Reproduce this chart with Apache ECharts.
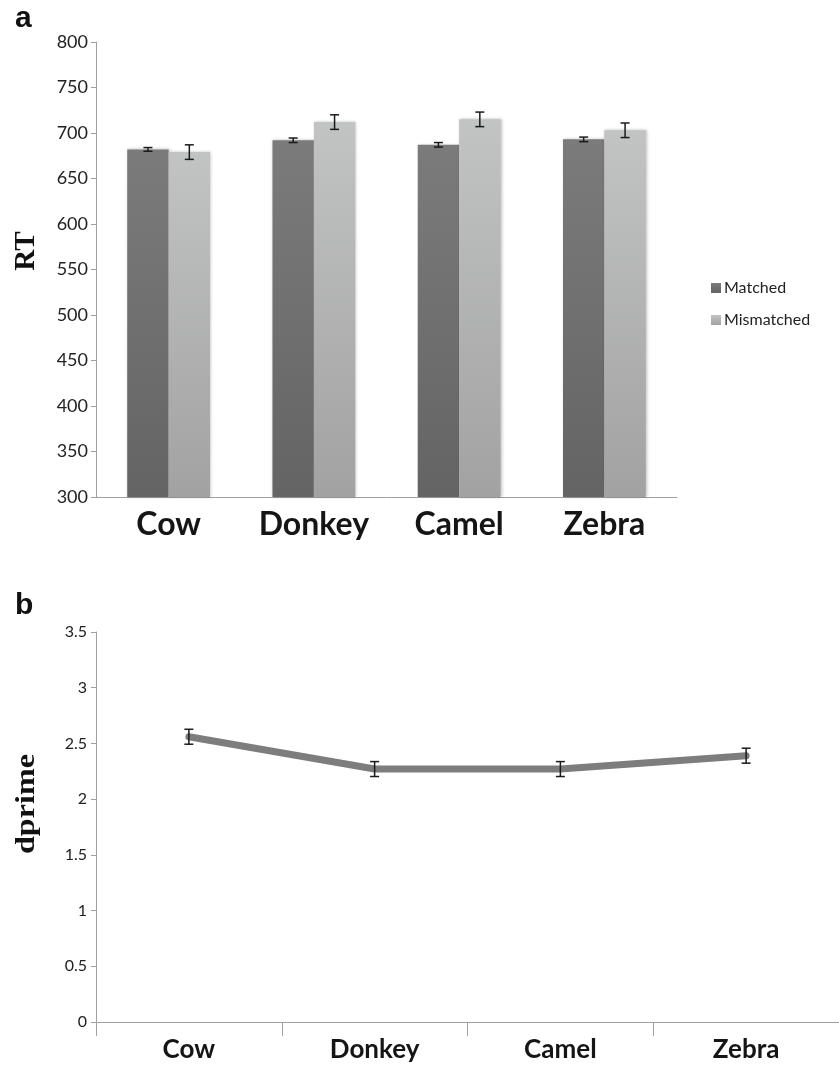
<!DOCTYPE html>
<html>
<head>
<meta charset="utf-8">
<script src="https://cdn.jsdelivr.net/npm/echarts@6/dist/echarts.min.js"></script>
<style>
html,body{margin:0;padding:0;background:#fff;}
#chart{width:839px;height:1065px;}
</style>
</head>
<body>
<div id="chart"></div>
<script>
// data
var animals = ['Cow', 'Donkey', 'Camel', 'Zebra'];
var matchedRT = [682, 692, 687, 693];
var matchedErr = [2, 2.5, 2.5, 2.5];
var mismatchedRT = [679, 712, 715, 703];
var mismatchedErr = [8, 8, 8, 8];
var dprime = [2.56, 2.27, 2.27, 2.39];
var dprimeErr = [0.067, 0.067, 0.067, 0.067];
var rtMin = 300, rtMax = 800, rtStep = 50;
var dpMin = 0, dpMax = 3.5, dpStep = 0.5;

var catGap = 0.43;
var labelFont = 'Lato';

function errRows(vals, errs){
    var out = [];
    for(var i=0; i<vals.length; i++){
        out.push([i, vals[i]-errs[i], vals[i]+errs[i]]);
    }
    return out;
}

function errorBar(side, gap){
    return function(params, api){
        var band = api.size([1, 0])[0];
        var shift = side * band * (1 - gap) / 4;
        var lo = api.coord([api.value(0), api.value(1)]);
        var hi = api.coord([api.value(0), api.value(2)]);
        var x = lo[0] + shift, cap = 4.5;
        var st = {stroke: '#1a1a1a', lineWidth: 1.5};
        return {type: 'group', children: [
            {type: 'line', shape: {x1: x, y1: lo[1], x2: x, y2: hi[1]}, style: st},
            {type: 'line', shape: {x1: x-cap, y1: lo[1], x2: x+cap, y2: lo[1]}, style: st},
            {type: 'line', shape: {x1: x-cap, y1: hi[1], x2: x+cap, y2: hi[1]}, style: st}
        ]};
    };
}

function grad(top, bottom){
    return new echarts.graphic.LinearGradient(0, 0, 0, 1, [
        {offset: 0, color: top}, {offset: 1, color: bottom}
    ]);
}

var myChart = echarts.init(document.getElementById('chart'));

var option = {
    backgroundColor: '#fff',
    animation: false,
    grid: [
        {left: 96, top: 42, width: 581, height: 455},
        {left: 96, top: 632, width: 747, height: 390}
    ],
    legend: {
        data: ['Matched', 'Mismatched'],
        orient: 'vertical',
        left: 706, top: 275,
        icon: 'rect',
        itemWidth: 10, itemHeight: 10, itemGap: 16,
        textStyle: {color: '#222', fontFamily: labelFont, fontSize: 16, lineHeight: 16, padding: [0, 0, 0, -2]}
    },
    xAxis: [
        {
            gridIndex: 0, type: 'category', data: animals,
            axisLine: {lineStyle: {color: '#a0a0a0', width: 1}},
            axisTick: {show: false},
            axisLabel: {margin: 12, color: '#151515', fontFamily: labelFont, fontWeight: 'bold', fontSize: 32}
        },
        {
            gridIndex: 1, type: 'category', data: animals,
            axisLine: {lineStyle: {color: '#a0a0a0', width: 1}},
            axisTick: {show: true, length: 14, lineStyle: {color: '#a0a0a0'}},
            axisLabel: {margin: 15, color: '#151515', fontFamily: labelFont, fontWeight: 'bold', fontSize: 26}
        }
    ],
    yAxis: [
        {
            gridIndex: 0, type: 'value', min: rtMin, max: rtMax, interval: rtStep,
            axisLine: {show: true, lineStyle: {color: '#a0a0a0'}},
            axisTick: {show: true, length: 5, lineStyle: {color: '#a0a0a0'}},
            splitLine: {show: false},
            axisLabel: {margin: 8, color: '#222', fontFamily: labelFont, fontSize: 18}
        },
        {
            gridIndex: 1, type: 'value', min: dpMin, max: dpMax, interval: dpStep,
            axisLine: {show: true, lineStyle: {color: '#a0a0a0'}},
            axisTick: {show: true, length: 5, lineStyle: {color: '#a0a0a0'}},
            splitLine: {show: false},
            axisLabel: {margin: 9, color: '#222', fontFamily: labelFont, fontSize: 16}
        }
    ],
    graphic: [
        {type: 'text', left: 15, top: 4, style: {text: 'a', font: 'bold 30px "Liberation Sans"', fill: '#111'}},
        {type: 'text', left: 15, top: 591, style: {text: 'b', font: 'bold 30px "Liberation Sans"', fill: '#111'}},
        {type: 'text', x: 27, y: 251, rotation: Math.PI/2,
            style: {text: 'RT', font: 'bold 29px "Liberation Serif"', fill: '#111', align: 'center', verticalAlign: 'middle'}},
        {type: 'text', x: 27, y: 804, rotation: Math.PI/2, scaleX: 1.15,
            style: {text: 'dprime', font: 'bold 28px "Liberation Serif"', fill: '#111', align: 'center', verticalAlign: 'middle'}}
    ],
    series: [
        {
            name: 'Matched', type: 'bar', xAxisIndex: 0, yAxisIndex: 0,
            data: matchedRT, barGap: '0%', barCategoryGap: (catGap*100)+'%',
            itemStyle: {color: grad('#7b7b7b', '#646464'), shadowColor: 'rgba(0,0,0,0.25)', shadowBlur: 3, shadowOffsetX: 1}
        },
        {
            name: 'Mismatched', type: 'bar', xAxisIndex: 0, yAxisIndex: 0,
            data: mismatchedRT, barGap: '0%', barCategoryGap: (catGap*100)+'%',
            itemStyle: {color: grad('#c2c3c3', '#a2a2a2'), shadowColor: 'rgba(0,0,0,0.25)', shadowBlur: 3, shadowOffsetX: 1}
        },
        {
            type: 'custom', xAxisIndex: 0, yAxisIndex: 0, z: 5,
            renderItem: errorBar(-1, catGap), data: errRows(matchedRT, matchedErr)
        },
        {
            type: 'custom', xAxisIndex: 0, yAxisIndex: 0, z: 5,
            renderItem: errorBar(1, catGap), data: errRows(mismatchedRT, mismatchedErr)
        },
        {
            name: 'dprime', type: 'line', xAxisIndex: 1, yAxisIndex: 1,
            data: dprime, symbol: 'none',
            lineStyle: {color: '#7d7d7d', width: 7, cap: 'round', join: 'round'}
        },
        {
            type: 'custom', xAxisIndex: 1, yAxisIndex: 1, z: 5,
            renderItem: errorBar(0, 0), data: errRows(dprime, dprimeErr)
        }
    ]
};
myChart.setOption(option, true);
</script>
</body>
</html>
